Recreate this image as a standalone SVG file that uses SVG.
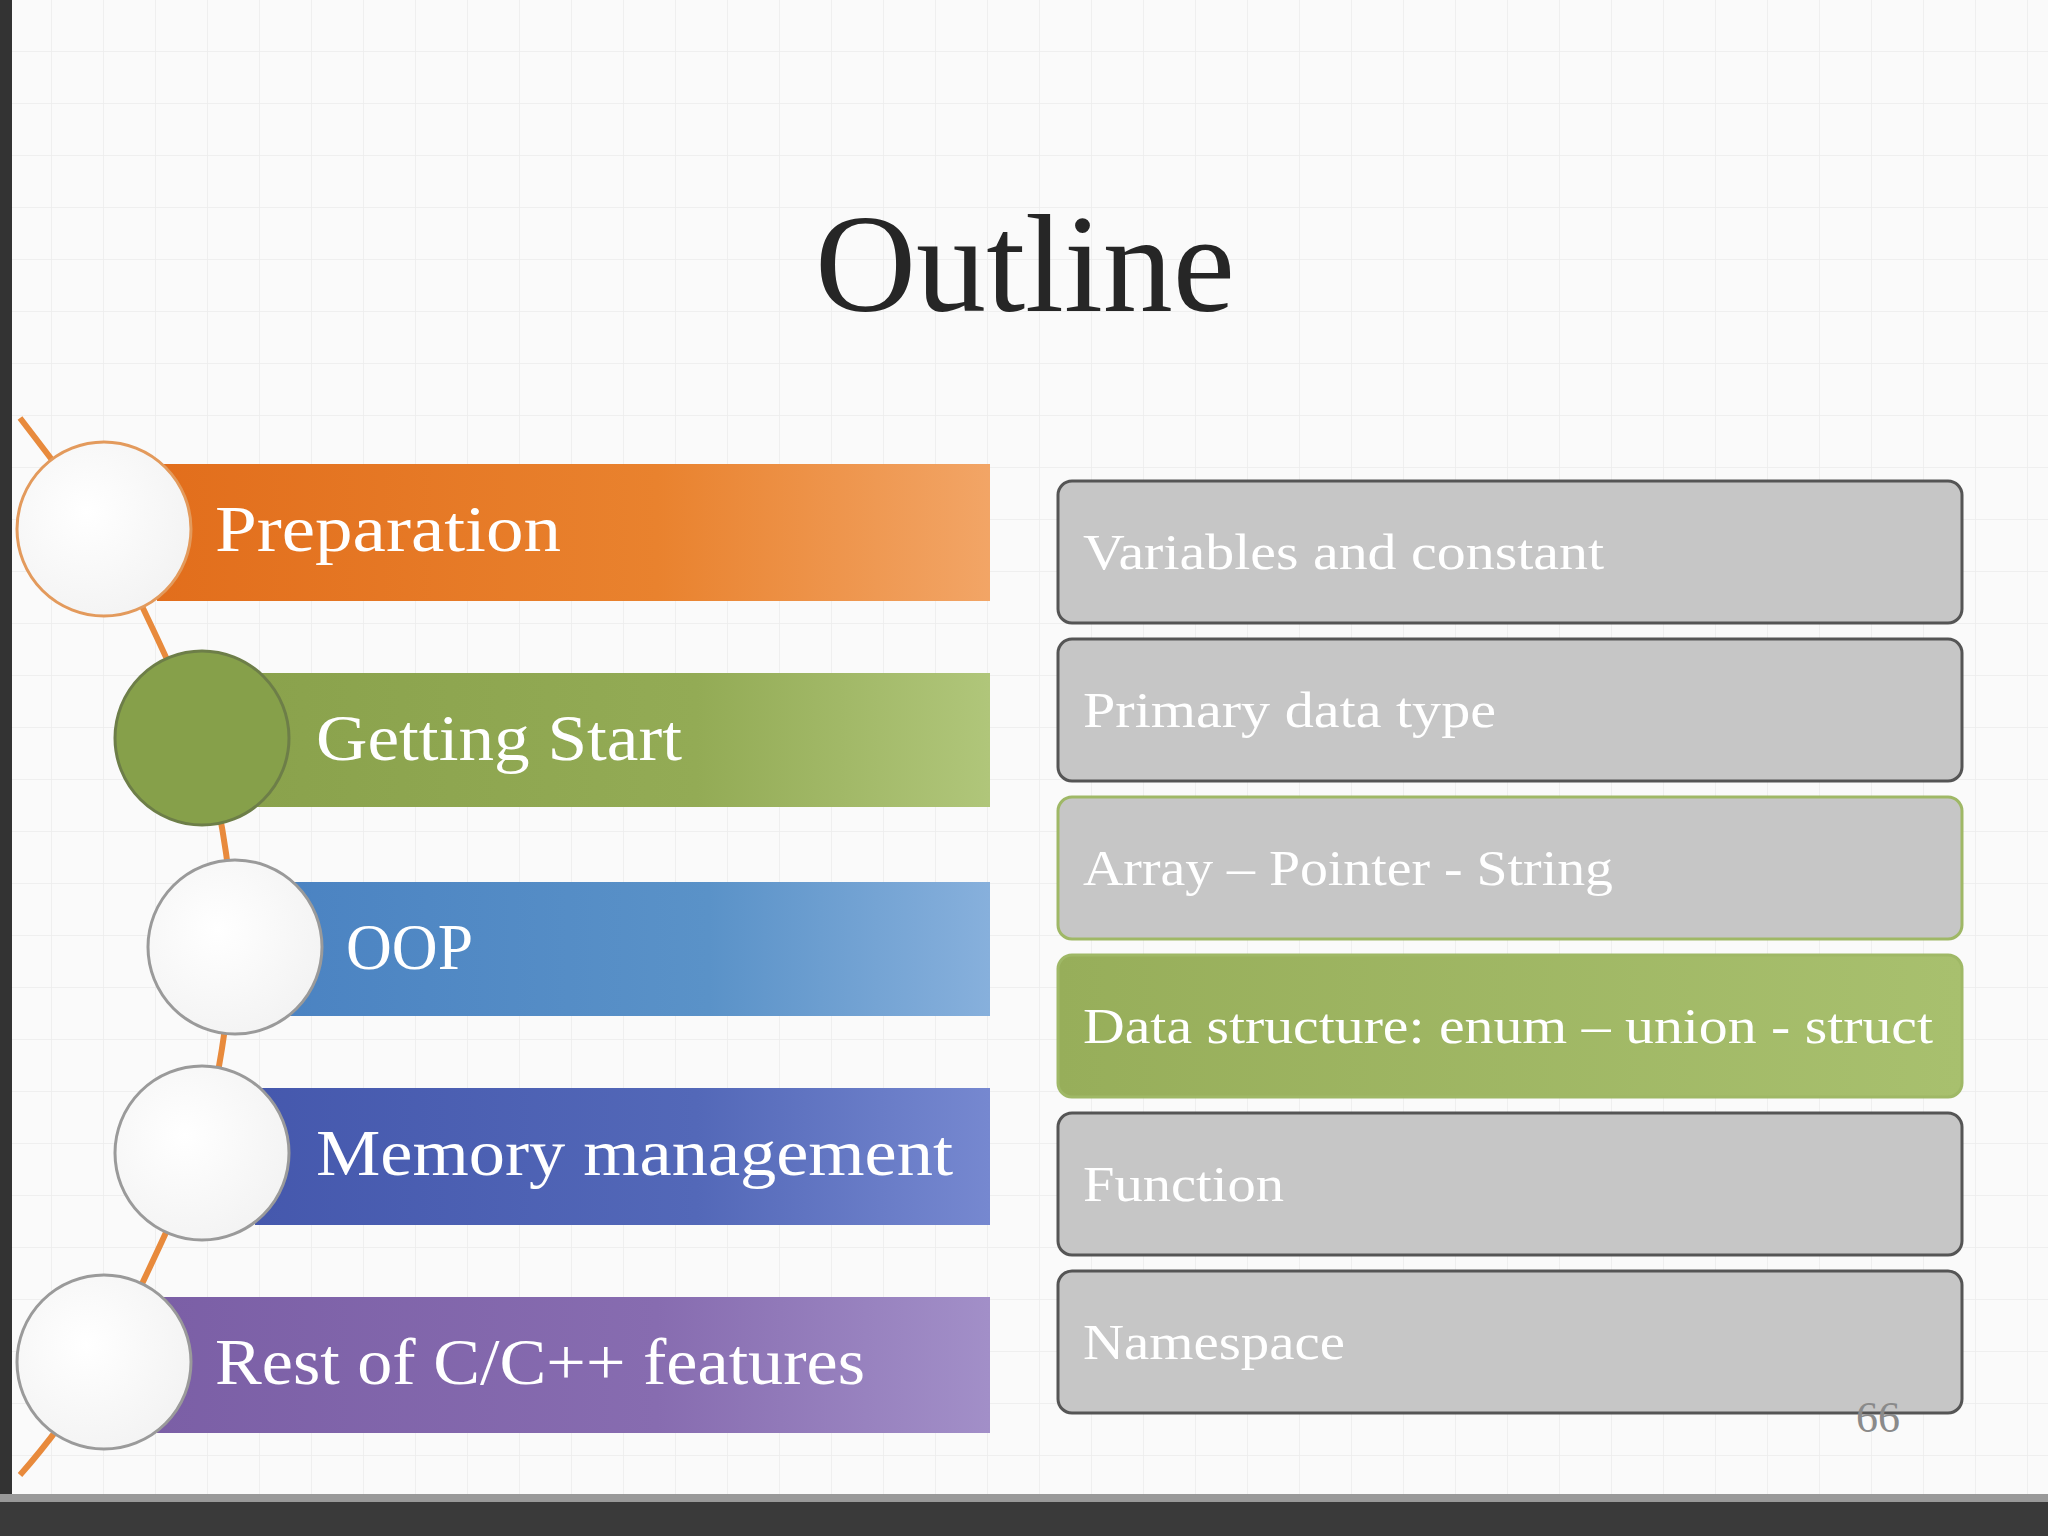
<svg xmlns="http://www.w3.org/2000/svg" width="2048" height="1536" viewBox="0 0 2048 1536">
<defs>
<pattern id="grid" width="52" height="52" patternUnits="userSpaceOnUse"><path d="M52 0V52H0" fill="none" stroke="#ececec" stroke-width="1.5"/></pattern>
<linearGradient id="gO" x1="0" x2="1"><stop offset="0" stop-color="#e26e1c"/><stop offset="0.6" stop-color="#e9822e"/><stop offset="1" stop-color="#f2a566"/></linearGradient>
<linearGradient id="gG" x1="0" x2="1"><stop offset="0" stop-color="#8aa24c"/><stop offset="0.6" stop-color="#93ab55"/><stop offset="1" stop-color="#b0c67a"/></linearGradient>
<linearGradient id="gB" x1="0" x2="1"><stop offset="0" stop-color="#4b83c2"/><stop offset="0.6" stop-color="#5a92c8"/><stop offset="1" stop-color="#87b0dc"/></linearGradient>
<linearGradient id="gI" x1="0" x2="1"><stop offset="0" stop-color="#4558ad"/><stop offset="0.6" stop-color="#5368b8"/><stop offset="1" stop-color="#7688d0"/></linearGradient>
<linearGradient id="gP" x1="0" x2="1"><stop offset="0" stop-color="#7b5fa6"/><stop offset="0.6" stop-color="#876cb0"/><stop offset="1" stop-color="#a28fc8"/></linearGradient>
<linearGradient id="gR" x1="0" x2="1"><stop offset="0" stop-color="#97ae5a"/><stop offset="1" stop-color="#a8c06e"/></linearGradient>
<radialGradient id="gC" cx="0.4" cy="0.4" r="0.7"><stop offset="0" stop-color="#ffffff"/><stop offset="1" stop-color="#f2f2f2"/></radialGradient>
</defs>
<style>
.bar{stroke:none}
.lt{font-family:"Liberation Serif",serif;font-size:66px;fill:#ffffff}
.rt{font-family:"Liberation Serif",serif;font-size:50px;fill:#ffffff}
.box{fill:#c6c6c6;stroke:#555;stroke-width:3}
.circ{fill:url(#gC);stroke:#9a9a9a;stroke-width:3}
</style>
<rect width="2048" height="1536" fill="#fafafa"/>
<rect width="2048" height="1500" fill="url(#grid)"/>
<rect x="0" y="0" width="12" height="1536" fill="#333"/>
<rect x="0" y="1500" width="2048" height="36" fill="#3a3a3a"/>
<rect x="0" y="1494" width="2048" height="8" fill="#999"/>
<text x="1025" y="311" text-anchor="middle" font-family="Liberation Serif,serif" font-size="140" fill="#262626" textLength="420" lengthAdjust="spacingAndGlyphs">Outline</text>
<g id="connectors">
<path d="M20 418 Q60 470 104 529 Q160 640 202 738 Q230 840 235 947 Q225 1050 202 1153 Q150 1270 104 1362 Q60 1430 20 1475" fill="none" stroke="#e88a3c" stroke-width="6"/>
</g>
<g id="n1"><rect class="bar" x="157" y="464" width="833" height="137" fill="url(#gO)"/><circle cx="104" cy="529" r="87" fill="url(#gC)" stroke="#e39a5c" stroke-width="3"/><text class="lt" x="215" y="551" textLength="346" lengthAdjust="spacingAndGlyphs">Preparation</text></g>
<g id="n2"><rect class="bar" x="255" y="673" width="735" height="134" fill="url(#gG)"/><circle cx="202" cy="738" r="87" fill="#86a04a" stroke="#6d7e48" stroke-width="3"/><text class="lt" x="316" y="760" textLength="366" lengthAdjust="spacingAndGlyphs">Getting Start</text></g>
<g id="n3"><rect class="bar" x="287" y="882" width="703" height="134" fill="url(#gB)"/><circle class="circ" cx="235" cy="947" r="87"/><text class="lt" x="346" y="969" textLength="127" lengthAdjust="spacingAndGlyphs">OOP</text></g>
<g id="n4"><rect class="bar" x="255" y="1088" width="735" height="137" fill="url(#gI)"/><circle class="circ" cx="202" cy="1153" r="87"/><text class="lt" x="316" y="1175" textLength="637" lengthAdjust="spacingAndGlyphs">Memory management</text></g>
<g id="n5"><rect class="bar" x="157" y="1297" width="833" height="136" fill="url(#gP)"/><circle class="circ" cx="104" cy="1362" r="87"/><text class="lt" x="215" y="1384" textLength="650" lengthAdjust="spacingAndGlyphs">Rest of C/C++ features</text></g>
<g id="r1"><rect class="box" x="1058" y="481" width="904" height="142" rx="14"/><text class="rt" x="1083" y="569" textLength="521" lengthAdjust="spacingAndGlyphs">Variables and constant</text></g>
<g id="r2"><rect class="box" x="1058" y="639" width="904" height="142" rx="14"/><text class="rt" x="1083" y="727" textLength="413" lengthAdjust="spacingAndGlyphs">Primary data type</text></g>
<g id="r3"><rect x="1058" y="797" width="904" height="142" rx="14" fill="#c6c6c6" stroke="#9fb866" stroke-width="3"/><text class="rt" x="1083" y="885" textLength="530" lengthAdjust="spacingAndGlyphs">Array – Pointer - String</text></g>
<g id="r4"><rect x="1058" y="955" width="904" height="142" rx="14" fill="url(#gR)" stroke="#9fb866" stroke-width="3"/><text class="rt" x="1083" y="1043" textLength="850" lengthAdjust="spacingAndGlyphs">Data structure: enum – union - struct</text></g>
<g id="r5"><rect class="box" x="1058" y="1113" width="904" height="142" rx="14"/><text class="rt" x="1083" y="1201" textLength="201" lengthAdjust="spacingAndGlyphs">Function</text></g>
<g id="r6"><rect class="box" x="1058" y="1271" width="904" height="142" rx="14"/><text class="rt" x="1083" y="1359" textLength="262" lengthAdjust="spacingAndGlyphs">Namespace</text></g>
<text x="1878" y="1432" text-anchor="middle" font-family="Liberation Serif,serif" font-size="44" fill="#8a8a8a">66</text>
</svg>
